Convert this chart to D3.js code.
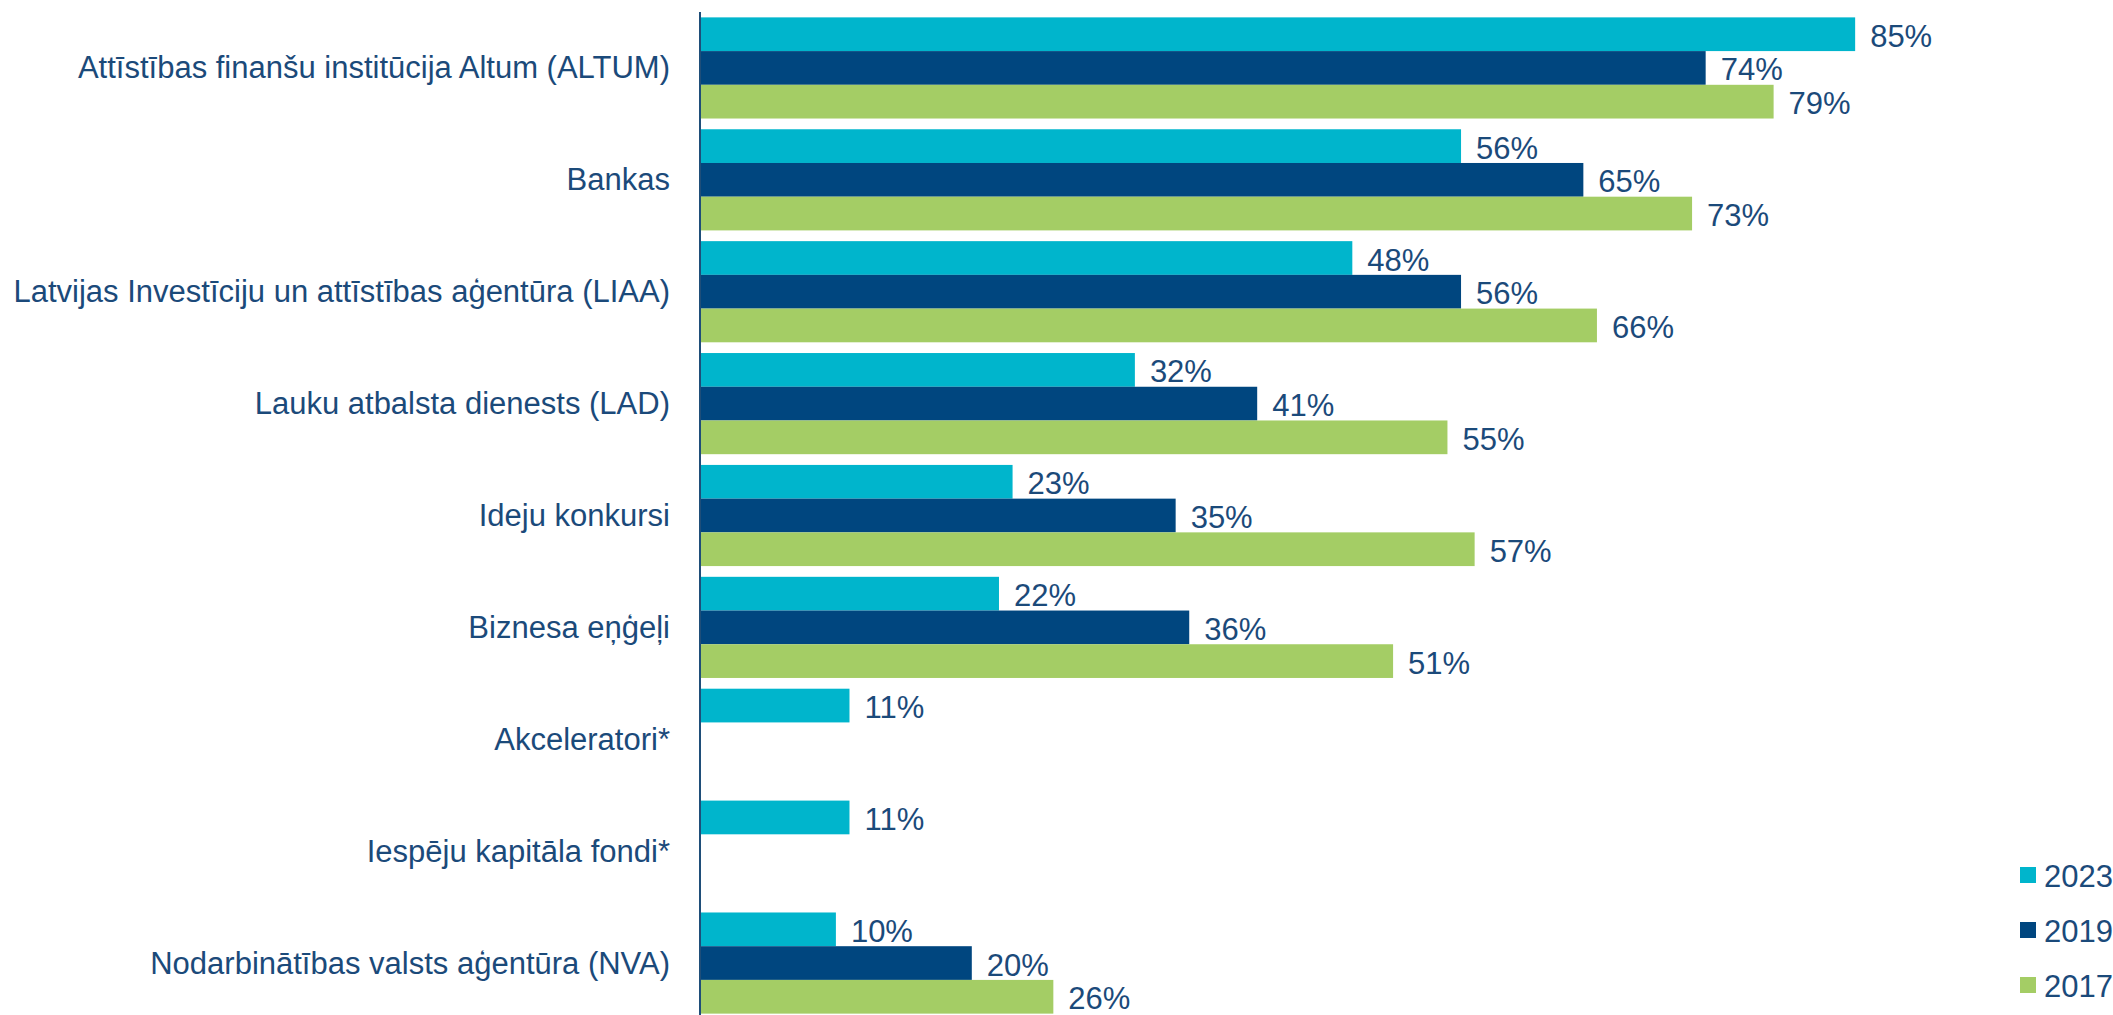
<!DOCTYPE html>
<html>
<head>
<meta charset="utf-8">
<script src="https://cdn.jsdelivr.net/npm/d3@7"></script>
<style>
  html, body { margin: 0; padding: 0; background: #fff; }
  svg text { font-family: "Liberation Sans", Arial, sans-serif; fill: #1b4a7a; }
</style>
</head>
<body>
<svg id="chart" width="2113" height="1015"></svg>
<script>
// categories, top to bottom
var categories = [
  "Attīstības finanšu institūcija Altum (ALTUM)",
  "Bankas",
  "Latvijas Investīciju un attīstības aģentūra (LIAA)",
  "Lauku atbalsta dienests (LAD)",
  "Ideju konkursi",
  "Biznesa eņģeļi",
  "Akceleratori*",
  "Iespēju kapitāla fondi*",
  "Nodarbinātības valsts aģentūra (NVA)"
];
var seriesNames = ["2023", "2019", "2017"];
var values2023 = [85, 56, 48, 32, 23, 22, 11, 11, 10];
var values2019 = [74, 65, 56, 41, 35, 36, null, null, 20];
var values2017 = [79, 73, 66, 55, 57, 51, null, null, 26];
var colors = ["#00b5cc", "#00467f", "#a4cd65"];

var svg = d3.select("#chart");

var x = d3.scaleLinear().domain([0, 100]).range([700, 2059]);
var y0 = d3.scaleBand().domain(categories).range([12, 1019]).paddingInner(0.096).paddingOuter(0.048);
var y1 = d3.scaleBand().domain(seriesNames).range([0, y0.bandwidth()]);

var allValues = [values2023, values2019, values2017];
var rows = [];
categories.forEach(function(c, i) {
  seriesNames.forEach(function(s, j) {
    var v = allValues[j][i];
    if (v != null) rows.push({ cat: c, series: s, value: v, color: colors[j] });
  });
});

// bars
svg.append("g")
  .selectAll("rect")
  .data(rows)
  .enter().append("rect")
  .attr("x", x(0))
  .attr("y", function(d) { return y0(d.cat) + y1(d.series); })
  .attr("width", function(d) { return x(d.value) - x(0); })
  .attr("height", y1.bandwidth())
  .attr("fill", function(d) { return d.color; });

// value labels
svg.append("g")
  .selectAll("text")
  .data(rows)
  .enter().append("text")
  .attr("x", function(d) { return x(d.value) + 15; })
  .attr("y", function(d) { return y0(d.cat) + y1(d.series) + y1.bandwidth() / 2 + 2; })
  .attr("dominant-baseline", "central")
  .style("font-size", "31px")
  .text(function(d) { return d.value + "%"; });

// category labels
svg.append("g")
  .selectAll("text")
  .data(categories)
  .enter().append("text")
  .attr("x", 670)
  .attr("y", function(d) { return y0(d) + y0.bandwidth() / 2; })
  .attr("text-anchor", "end")
  .attr("dominant-baseline", "central")
  .style("font-size", "31px")
  .text(function(d) { return d; });

// axis line
svg.append("line")
  .attr("x1", x(0)).attr("x2", x(0))
  .attr("y1", 12).attr("y2", 1015)
  .attr("stroke", "#1f4e79")
  .attr("stroke-width", 2);

// legend
var legend = svg.append("g")
  .selectAll("g")
  .data(seriesNames)
  .enter().append("g")
  .attr("transform", function(d, i) { return "translate(2020," + (875 + i * 55) + ")"; });

legend.append("rect")
  .attr("x", 0).attr("y", -8)
  .attr("width", 16).attr("height", 16)
  .attr("fill", function(d, i) { return colors[i]; });

legend.append("text")
  .attr("x", 24).attr("y", 1)
  .attr("dominant-baseline", "central")
  .style("font-size", "31px")
  .text(function(d) { return d; });
</script>
</body>
</html>
